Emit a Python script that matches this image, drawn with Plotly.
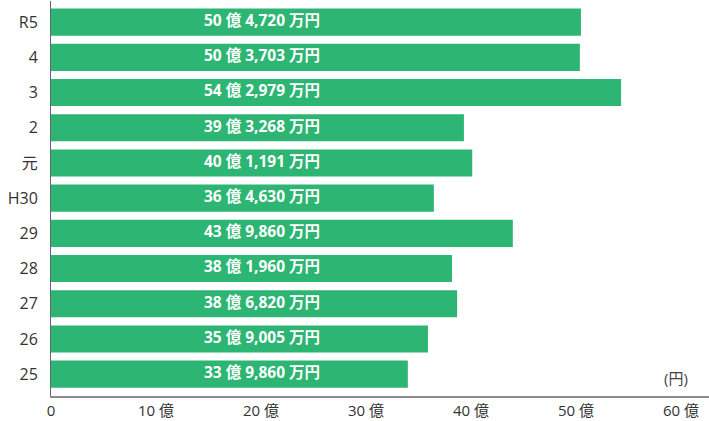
import plotly.graph_objects as go

categories = ["25", "26", "27", "28", "29", "H30", "元", "2", "3", "4", "R5"]
values_oku = [33.9860, 35.9005, 38.6820, 38.1960, 43.9860, 36.4630, 40.1191, 39.3268, 54.2979, 50.3703, 50.4720]
bar_labels = ["33 億 9,860 万円", "35 億 9,005 万円", "38 億 6,820 万円", "38 億 1,960 万円",
              "43 億 9,860 万円", "36 億 4,630 万円", "40 億 1,191 万円", "39 億 3,268 万円",
              "54 億 2,979 万円", "50 億 3,703 万円", "50 億 4,720 万円"]
tick_vals = [0, 10, 20, 30, 40, 50, 60]
tick_text = ["0", "10 億", "20 億", "30 億", "40 億", "50 億", "60 億"]
unit_label = "(円)"

FONT = "Open Sans, Noto Sans CJK JP, sans-serif"

fig = go.Figure()
fig.add_trace(go.Bar(
    y=categories, x=values_oku, orientation="h",
    marker=dict(color="#2cb573", line=dict(width=0)),
    width=0.77, hoverinfo="skip",
))
fig.add_trace(go.Scatter(
    y=categories, x=[20.1] * len(categories), mode="text",
    text=bar_labels, textposition="middle center",
    textfont=dict(family=FONT, size=15.5, color="white", weight="bold"),
    hoverinfo="skip",
))
fig.add_annotation(
    x=59.5, xref="x", y=0.045, yref="paper", yanchor="middle", xanchor="center",
    text=unit_label, showarrow=False,
    font=dict(family=FONT, size=15, color="#444"),
)

fig.update_layout(
    width=709, height=421,
    margin=dict(l=51, r=0, t=1, b=25, autoexpand=False),
    paper_bgcolor="white", plot_bgcolor="white",
    showlegend=False,
    font=dict(family=FONT, color="#333", size=15),
    xaxis=dict(
        range=[0, 62.67], tickvals=tick_vals, ticktext=tick_text,
        showgrid=False, zeroline=False, showline=True, automargin=False,
        linecolor="#8c8c8c", linewidth=2, ticks="", ticklabelstandoff=0,
        tickfont=dict(family=FONT, size=15, color="#333"),
    ),
    yaxis=dict(
        type="category", categoryorder="array", categoryarray=categories,
        range=[-0.62, 10.6], automargin=False,
        showgrid=False, zeroline=False, showline=True,
        linecolor="#666", linewidth=1, ticks="", ticklabelstandoff=9,
        tickfont=dict(family=FONT, size=16, color="#333"),
    ),
)

fig.write_html("out.html")
